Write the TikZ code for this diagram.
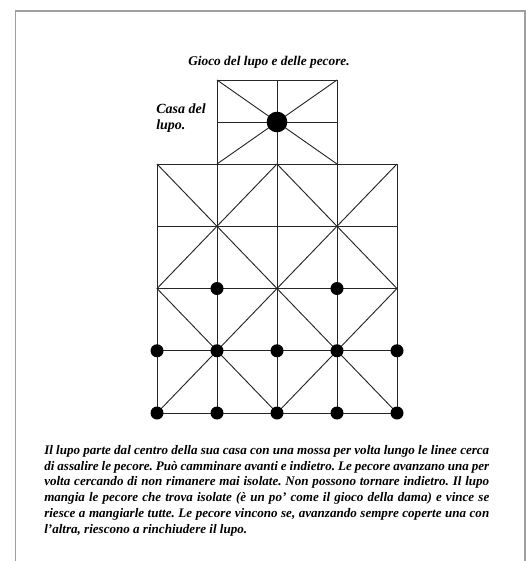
\documentclass[tikz,border=0pt]{standalone}
\usepackage{fontspec}
\setmainfont{Liberation Serif}
\usetikzlibrary{positioning}
\frenchspacing

\tikzset{
  boardline/.style={draw=black!85, line width=0.7pt},
  sheep/.style={circle, fill=black, inner sep=0pt, minimum size=9.75pt},
  wolf/.style={circle, fill=black, inner sep=0pt, minimum size=15.5pt},
  caption/.style={font=\bfseries\itshape\fontsize{10.5}{12}\selectfont},
}

\begin{document}
\begin{tikzpicture}[x=0.75pt, y=-0.75pt]
\useasboundingbox (0,0) rectangle (530,561);
% cornice
\draw[gray!75, line width=1.2pt] (15.5,561) -- (15.5,11) -- (525,11) -- (525,561);

% punti della tavola
\foreach \i in {0,...,4}
  \foreach \j in {0,...,4}
    \coordinate (p\i\j) at ({157+60*\i},{164+62.25*\j});
\foreach \i in {0,1,2}
  \foreach \j in {0,1,2}
    \coordinate (h\i\j) at ({217+60*\i},{80+42*\j});

% campo delle pecore
\foreach \j in {0,...,4}
  \draw[boardline] (p0\j) -- (p4\j);
\foreach \i in {0,...,4}
  \draw[boardline] (p\i0) -- (p\i4);
\draw[boardline] (p00) -- (p44);
\draw[boardline] (p40) -- (p04);
\draw[boardline] (p20) -- (p02) -- (p24) -- (p42) -- cycle;

% casa del lupo
\foreach \j in {0,1}
  \draw[boardline] (h0\j) -- (h2\j);
\foreach \i in {0,1,2}
  \draw[boardline] (h\i0) -- (h\i2);
\draw[boardline] (h00) -- (h22);
\draw[boardline] (h20) -- (h02);

% pedine
\node[wolf] (lupo) at (h11) {};
\foreach \i in {1,3}
  \node[sheep] (pecora\i2) at (p\i2) {};
\foreach \j in {3,4}
  \foreach \i in {0,...,4}
    \node[sheep] (pecora\i\j) at (p\i\j) {};

% testi
\node[caption, font=\bfseries\itshape\fontsize{10}{12}\selectfont] (titolo) at (269,62) {Gioco del lupo e delle pecore.};
\node[caption, align=left, anchor=north west, inner sep=0pt] (casa) at (156,104) {Casa del\\lupo.};
\node[caption, font=\bfseries\itshape\fontsize{9.8}{11.8}\selectfont, text width=333.75pt, align=justify,
      anchor=north west, inner sep=0pt] (regole) at (44,445)
  {Il lupo parte dal centro della sua casa con una mossa per volta lungo le linee cerca\linebreak
   di assalire le pecore. Può camminare avanti e indietro. Le pecore avanzano una per\linebreak
   volta cercando di non rimanere mai isolate. Non possono tornare indietro. Il lupo\linebreak
   mangia le pecore che trova isolate (è un po' come il gioco della dama) e vince se\linebreak
   riesce a mangiarle tutte. Le pecore vincono se, avanzando sempre coperte una con\linebreak
   l'altra, riescono a rinchiudere il lupo.};
\end{tikzpicture}
\end{document}
